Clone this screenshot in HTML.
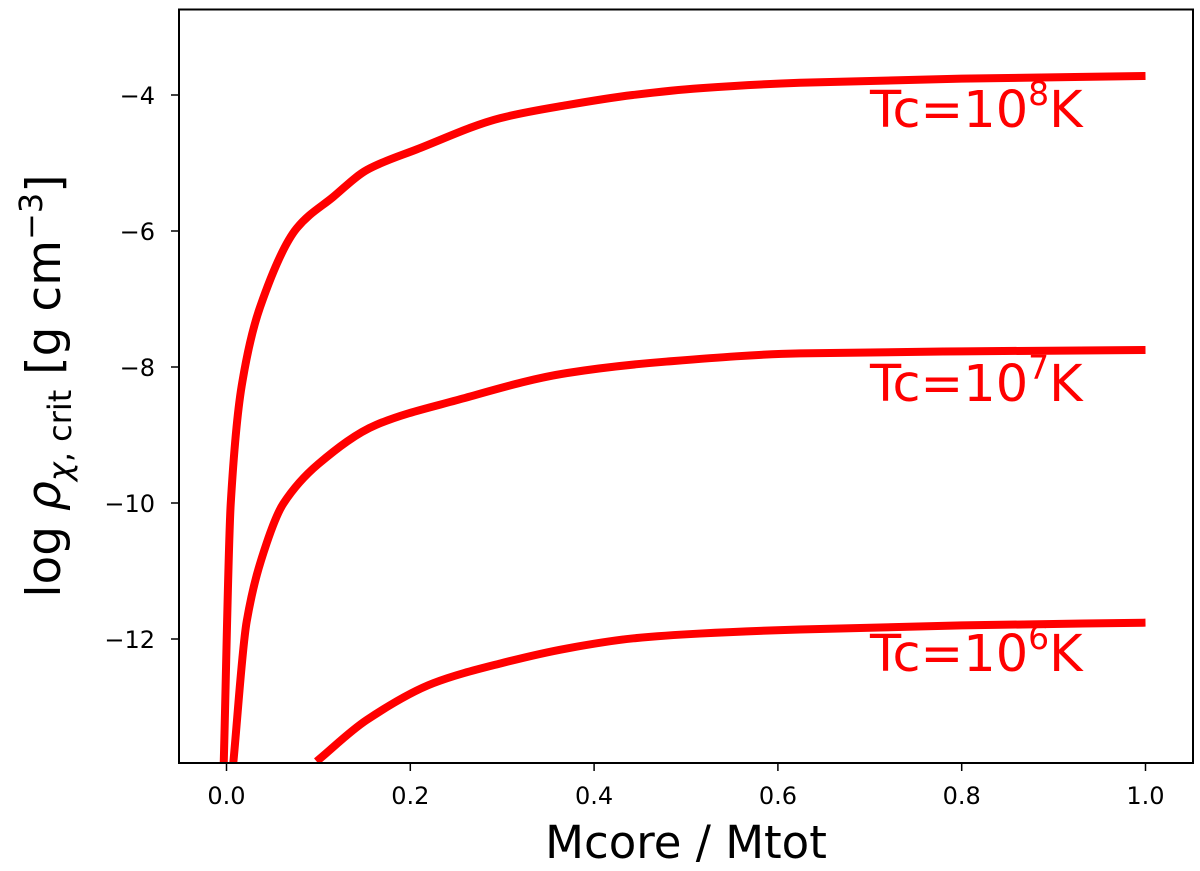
<!DOCTYPE html>
<html><head><meta charset="utf-8"><style>
html,body{margin:0;padding:0;background:#fff;}
svg{display:block;font-family:"DejaVu Sans","Liberation Sans",sans-serif;}
</style></head><body>
<svg id="chart" width="1200" height="871" viewBox="0 0 1200 871" xmlns="http://www.w3.org/2000/svg">
<rect x="0" y="0" width="1200" height="871" fill="#fff"/>
<g id="series"></g>
<rect x="179" y="9.5" width="1014" height="753.5" fill="none" stroke="#000" stroke-width="2"/>
<g id="xticks"></g>
<g id="yticks"></g>
<text x="686" y="858" font-size="45" text-anchor="middle">Mcore / Mtot</text>
<text transform="translate(60,386) rotate(-90)" font-size="47" text-anchor="middle">log <tspan font-style="italic">ρ</tspan><tspan font-size="32" dy="11"><tspan font-style="italic">χ</tspan>, crit</tspan><tspan dy="-11"> [g cm</tspan><tspan font-size="32" dy="-18">−3</tspan><tspan dy="18">]</tspan></text>
<g id="labels"></g>
</svg>
<script>
const xTicks = [0.0, 0.2, 0.4, 0.6, 0.8, 1.0];
const yTicks = [-4, -6, -8, -10, -12];
const seriesNames = ["tc-1e8", "tc-1e7", "tc-1e6"];
const labelExps = ["8", "7", "6"];
const x8 = [-0.003, 0.0046, 0.0165, 0.0365, 0.0764, 0.116, 0.153, 0.207, 0.298, 0.370, 0.442, 0.515, 0.624, 0.8, 1.0];
const y8 = [-13.82, -10.01, -8.28, -7.12, -5.96, -5.50, -5.10, -4.80, -4.34, -4.15, -4.0, -3.90, -3.82, -3.76, -3.72];
const x7 = [0.0074, 0.022, 0.0437, 0.0618, 0.0996, 0.163, 0.250, 0.370, 0.479, 0.624, 0.8, 1.0];
const y7 = [-13.82, -11.74, -10.59, -10.01, -9.43, -8.85, -8.49, -8.09, -7.92, -7.80, -7.77, -7.75];
const x6 = [0.098, 0.1526, 0.225, 0.298, 0.370, 0.443, 0.515, 0.624, 0.8, 1.0];
const y6 = [-13.80, -13.19, -12.65, -12.36, -12.14, -11.99, -11.92, -11.86, -11.80, -11.76];
const labelY = [-4.47, -8.5, -12.47];
</script>
<script>
const NS = "http://www.w3.org/2000/svg";
const X = v => 226.5 + v * 919;
const Y = v => 95 - (v + 4) * 68;
const sg = document.getElementById('series');
const clip = document.createElementNS(NS, 'clipPath');
clip.setAttribute('id', 'pc');
const cr = document.createElementNS(NS, 'rect');
cr.setAttribute('x', 179); cr.setAttribute('y', 9.5); cr.setAttribute('width', 1014); cr.setAttribute('height', 753.5);
clip.appendChild(cr); sg.appendChild(clip);
function smooth(xs, ys) {
  // monotone cubic (Fritsch-Carlson) in pixel space
  const px = xs.map(X), py = ys.map(Y);
  const n = px.length, d = [], m = [];
  for (let i = 0; i < n - 1; i++) d.push((py[i + 1] - py[i]) / (px[i + 1] - px[i]));
  m[0] = d[0]; m[n - 1] = d[n - 2];
  for (let i = 1; i < n - 1; i++) m[i] = (d[i - 1] * d[i] <= 0) ? 0 : 2 / (1 / d[i - 1] + 1 / d[i]);
  let s = 'M' + px[0] + ',' + py[0];
  for (let i = 0; i < n - 1; i++) {
    const h = (px[i + 1] - px[i]) / 3;
    s += ' C' + (px[i] + h) + ',' + (py[i] + m[i] * h) + ' ' + (px[i + 1] - h) + ',' + (py[i + 1] - m[i + 1] * h) + ' ' + px[i + 1] + ',' + py[i + 1];
  }
  return s;
}
const sets = [[x8, y8], [x7, y7], [x6, y6]];
sets.forEach((s, i) => {
  const path = document.createElementNS(NS, 'path');
  path.setAttribute('d', smooth(s[0], s[1]));
  path.setAttribute('fill', 'none');
  path.setAttribute('stroke', '#ff0000');
  path.setAttribute('stroke-width', '8');
  path.setAttribute('clip-path', 'url(#pc)');
  
  
  sg.appendChild(path);
});
const lg = document.getElementById('labels');
labelExps.forEach((e, i) => {
  const t = document.createElementNS(NS, 'text');
  t.setAttribute('x', 870);
  t.setAttribute('y', Y(labelY[i]));
  t.setAttribute('font-size', '51');
  t.setAttribute('fill', '#ff0000');
  t.innerHTML = 'Tc=10<tspan font-size="33" dy="-22">' + e + '</tspan><tspan dy="22">K</tspan>';
  
  
  lg.appendChild(t);
});
const xg = document.getElementById('xticks');
xTicks.forEach(v => {
  const l = document.createElementNS(NS, 'line');
  l.setAttribute('x1', X(v)); l.setAttribute('x2', X(v));
  l.setAttribute('y1', 763); l.setAttribute('y2', 771);
  l.setAttribute('stroke', '#000'); l.setAttribute('stroke-width', '1.5');
  
  
  xg.appendChild(l);
  const t = document.createElementNS(NS, 'text');
  t.setAttribute('x', X(v)); t.setAttribute('y', 804);
  t.setAttribute('font-size', '24'); t.setAttribute('text-anchor', 'middle');
  t.textContent = v.toFixed(1);
  
  
  xg.appendChild(t);
});
const yg = document.getElementById('yticks');
yTicks.forEach(v => {
  const l = document.createElementNS(NS, 'line');
  l.setAttribute('x1', 171); l.setAttribute('x2', 179);
  l.setAttribute('y1', Y(v)); l.setAttribute('y2', Y(v));
  l.setAttribute('stroke', '#000'); l.setAttribute('stroke-width', '1.5');
  
  
  yg.appendChild(l);
  const t = document.createElementNS(NS, 'text');
  t.setAttribute('x', 155); t.setAttribute('y', Y(v) + 9);
  t.setAttribute('font-size', '24'); t.setAttribute('text-anchor', 'end');
  t.textContent = '−' + Math.abs(v);
  
  
  yg.appendChild(t);
});
</script>
</body></html>
